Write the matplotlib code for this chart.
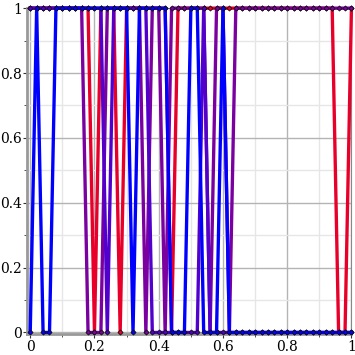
import numpy as np
import matplotlib.pyplot as plt
from matplotlib.ticker import MultipleLocator, FuncFormatter

# samples every 0.02 on [0, 1]
x = np.linspace(0, 1, 51)

red = [1, 1, 1, 1, 1, 1, 1, 1, 1, 1, 0, 1, 1, 1, 0, 1, 1, 1, 1, 1,
       1, 1, 0, 1, 1, 1, 1, 1, 1, 1, 1, 1, 1, 1, 1, 1, 1, 1, 1, 1,
       1, 1, 1, 1, 1, 1, 1, 1, 0, 0, 1]
purple = [1, 1, 1, 1, 1, 1, 1, 1, 1, 0, 0, 0, 1, 1, 1, 1, 1, 1, 0, 1,
          1, 0, 1, 1, 1, 1, 1, 1, 0, 1, 1, 0, 1, 1, 1, 1, 1, 1, 1, 1,
          1, 1, 1, 1, 1, 1, 1, 1, 1, 1, 1]
indigo = [1, 1, 1, 1, 1, 1, 1, 1, 1, 1, 1, 1, 0, 1, 1, 1, 1, 1, 1, 0,
          0, 0, 0, 0, 0, 0, 0, 1, 0, 0, 0, 0, 0, 0, 0, 0, 0, 0, 0, 0,
          0, 0, 0, 0, 0, 0, 0, 0, 0, 0, 0]
blue = [0, 1, 0, 0, 1, 1, 1, 1, 1, 1, 1, 1, 1, 1, 1, 1, 0, 1, 1, 1,
        1, 1, 0, 0, 0, 1, 1, 0, 0, 0, 1, 0, 0, 0, 0, 0, 0, 0, 0, 0,
        0, 0, 0, 0, 0, 0, 0, 0, 0, 0, 0]

series = [red, purple, indigo, blue]
colors = ['#e8002a', '#7a00a0', '#5200cc', '#0000ff']

fig = plt.figure(figsize=(3.55, 3.55), dpi=100)
ax = fig.add_axes([0.077, 0.058, 0.913, 0.919])

for ys, c in zip(series, colors):
    ax.plot(x, ys, color=c, lw=2.4, marker='D', ms=2.6,
            mfc=c, mec='#111111', mew=0.6, clip_on=False, zorder=3)

ax.set_xlim(-0.009, 1.0)
ax.set_ylim(-0.006, 1.0)

ax.xaxis.set_major_locator(MultipleLocator(0.2))
ax.yaxis.set_major_locator(MultipleLocator(0.2))
ax.xaxis.set_minor_locator(MultipleLocator(0.1))
ax.yaxis.set_minor_locator(MultipleLocator(0.1))
fmt = FuncFormatter(lambda v, p: ('%g' % round(v, 2)))
ax.xaxis.set_major_formatter(fmt)
ax.yaxis.set_major_formatter(fmt)

ax.grid(True, which='major', color='#b4b4b4', lw=1.0)
ax.grid(True, which='minor', color='#e6e6e6', lw=1.0)
ax.set_axisbelow(True)

for s in ['left', 'bottom']:
    ax.spines[s].set_color('#999999')
    ax.spines[s].set_linewidth(2.0)
for s in ['top', 'right']:
    ax.spines[s].set_color('#888888')
    ax.spines[s].set_linewidth(0.8)

ax.tick_params(which='both', direction='out', color='#333333',
               labelsize=10, pad=1)
ax.tick_params(which='major', length=3)
ax.tick_params(which='minor', length=2)
for lab in ax.get_xticklabels() + ax.get_yticklabels():
    lab.set_fontfamily('DejaVu Serif')

fig.savefig('out.png')
